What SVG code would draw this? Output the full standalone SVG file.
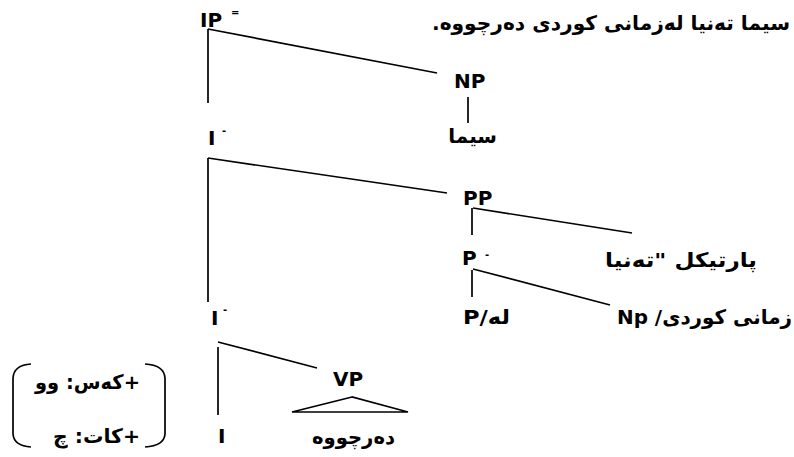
<svg xmlns="http://www.w3.org/2000/svg" width="794" height="457" viewBox="0 0 794 457">
<style>
text{font-family:"DejaVu Sans","Liberation Sans",sans-serif;font-weight:bold;fill:#000;}
.lbl{font-size:20px;}
.ar{font-size:20px;}
.sup{font-size:10px;}
.ln{stroke:#000;stroke-width:1.7;fill:none;}
</style>
<rect width="794" height="457" fill="#fff"/>
<g id="title"><text class="ar" x="790" y="30" direction="rtl" text-anchor="start" textLength="358" lengthAdjust="spacingAndGlyphs">سیما تەنیا لەزمانی کوردی دەرچووە.</text></g>
<g id="IP"><text class="lbl" x="200" y="27">IP</text><text class="sup" x="231" y="16">=</text></g>
<g id="NP"><text class="lbl" x="454" y="88">NP</text></g>
<g id="sima"><text class="ar" x="497" y="143" direction="rtl" text-anchor="start">سیما</text></g>
<g id="Ibar1"><text class="lbl" x="208" y="145">I</text><text class="sup" x="222" y="134">-</text></g>
<g id="PP"><text class="lbl" x="463" y="205">PP</text></g>
<g id="particle"><text class="ar" x="757" y="267" direction="rtl" text-anchor="start" textLength="152" lengthAdjust="spacingAndGlyphs">پارتیکل "تەنیا</text></g>
<g id="Pbar"><text class="lbl" x="462" y="265">P</text><text class="sup" x="485" y="258">-</text></g>
<g id="P-le"><text class="ar" x="463" y="324" direction="rtl" text-anchor="end" textLength="47" lengthAdjust="spacingAndGlyphs">له/P</text></g>
<g id="Np"><text class="ar" x="792" y="324" direction="rtl" text-anchor="start" textLength="175" lengthAdjust="spacingAndGlyphs">زمانی کوردی/ Np</text></g>
<g id="Ibar2"><text class="lbl" x="211" y="325">I</text><text class="sup" x="223" y="313">-</text></g>
<g id="VP"><text class="lbl" x="333" y="386">VP</text><polygon class="ln" points="352,397 292,412 408,412"/></g>
<g id="derchuwe"><text class="ar" x="395" y="444" direction="rtl" text-anchor="start" textLength="83" lengthAdjust="spacingAndGlyphs">دەرچووە</text></g>
<g id="I"><text class="lbl" x="218" y="443">I</text></g>
<g id="features">
<path class="ln" d="M31,364 Q14,365 13,378 L13,434 Q14,446 31,447"/>
<path class="ln" d="M145,364 Q164,365 165,378 L165,434 Q164,446 145,447"/>
<text class="ar" x="140" y="389" direction="rtl" text-anchor="start" textLength="105" lengthAdjust="spacingAndGlyphs">+کەس: وو</text>
<text class="ar" x="140" y="443" direction="rtl" text-anchor="start" textLength="87" lengthAdjust="spacingAndGlyphs">+کات: چ</text>
</g>
<g id="connectors">
<line class="ln" x1="208" y1="29" x2="437" y2="73"/>
<line class="ln" x1="208" y1="29" x2="208" y2="103"/>
<line class="ln" x1="468" y1="97" x2="468" y2="123"/>
<line class="ln" x1="208" y1="158" x2="447" y2="193"/>
<line class="ln" x1="208" y1="158" x2="208" y2="302"/>
<line class="ln" x1="473" y1="208" x2="632" y2="233"/>
<line class="ln" x1="472" y1="208" x2="472" y2="235"/>
<line class="ln" x1="473" y1="269" x2="610" y2="305"/>
<line class="ln" x1="472" y1="270" x2="472" y2="297"/>
<line class="ln" x1="218" y1="342" x2="317" y2="368"/>
<line class="ln" x1="218" y1="347" x2="218" y2="415"/>
</g>
</svg>
